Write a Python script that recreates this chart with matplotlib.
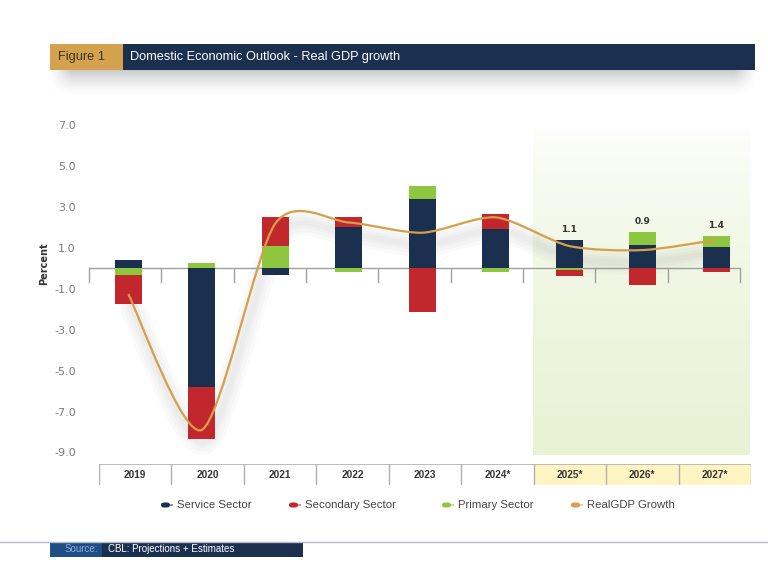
import numpy as np
import matplotlib
matplotlib.use("Agg")
import matplotlib.pyplot as plt
from matplotlib.path import Path
from matplotlib.patches import PathPatch, Rectangle, FancyBboxPatch
from matplotlib.transforms import ScaledTranslation

# data
years = ['2019', '2020', '2021', '2022', '2023', '2024*', '2025*', '2026*', '2027*']
service = [0.42, -5.8, -0.3, 2.05, 3.42, 1.95, 1.4, 1.15, 1.05]
primary = [-0.3, 0.25, 1.12, -0.16, 0.64, -0.15, -0.07, 0.65, 0.55]
secondary = [-1.45, -2.55, 1.42, 0.45, -2.15, 0.73, -0.3, -0.8, -0.15]
gdp = [-1.25, -7.9, 2.2, 2.25, 1.75, 2.5, 1.1, 0.9, 1.4]
projected = ['2025*', '2026*', '2027*']
yticks = [7.0, 5.0, 3.0, 1.0, -1.0, -3.0, -5.0, -7.0, -9.0]

NAVY = '#1b2f4f'
RED = '#c1272d'
GREEN = '#8dc63f'
GOLD = '#d5a04a'
ARIAL = 'Liberation Sans'

W, H = 768, 562
fig = plt.figure(figsize=(W / 100, H / 100), dpi=100)


def fx(x):
    return x / W


def fy(y):
    return 1 - y / H


def box(x0, y0, x1, y1):
    return [fx(x0), fy(y1), fx(x1) - fx(x0), fy(y0) - fy(y1)]


# title banner shadow (soft gray gradient)
sh = fig.add_axes(box(50, 70, 757, 96), zorder=0)
vy = np.linspace(0, 1, 60)[:, None]
hx = np.linspace(0, 1, 300)[None, :]
alpha = (1 - vy) ** 1.5 * np.clip(np.minimum(hx, 1 - hx) / 0.03, 0, 1) * 0.55
rgba = np.zeros((60, 300, 4))
rgba[..., :3] = 0.62
rgba[..., 3] = alpha
sh.imshow(rgba, aspect='auto', extent=[0, 1, 0, 1])
sh.axis('off')

fig.patches.append(Rectangle((fx(50), fy(70)), fx(73), 26 / H, transform=fig.transFigure,
                             color='#d4a24e', lw=0))
fig.patches.append(Rectangle((fx(123), fy(70)), fx(632), 26 / H, transform=fig.transFigure,
                             color=NAVY, lw=0))
fig.text(fx(58), fy(57), 'Figure 1', color='#3b3324', fontsize=9.2, va='center',
         family=ARIAL)
fig.text(fx(130), fy(57), 'Domestic Economic Outlook - Real GDP growth', color='white',
         fontsize=9.2, va='center', family=ARIAL)

# projection shading
shade = fig.add_axes(box(533, 125, 750, 455), zorder=0)
grad = np.linspace(0, 1, 100).reshape(-1, 1)
top_c = np.array([1.0, 1.0, 1.0])
bot_c = np.array([0xe9, 0xf2, 0xd4]) / 255
img = top_c * (1 - grad[..., None] ** 0.6) + bot_c * grad[..., None] ** 0.6
shade.imshow(img, aspect='auto', extent=[0, 1, 0, 1], origin='upper')
shade.axis('off')

YLIM = (-9.2, 7.5)
TOP, BOT = 115.2, 456.5

# frame axes: y labels, zero line and category ticks
ax0 = fig.add_axes(box(89, TOP, 740, BOT), zorder=1)
ax0.patch.set_alpha(0)
ax0.set_xlim(-0.5, len(years) - 0.5)
ax0.set_ylim(*YLIM)
ax0.axhline(0, color='#a0a0a0', lw=1)
for b in np.arange(-0.5, len(years), 1.0):
    ax0.plot([b, b], [0, -14 / 20.44], color='#a0a0a0', lw=1, clip_on=False)
ax0.set_xticks([])
ax0.set_yticks(yticks)
ax0.set_yticklabels([f'{t:.1f}' for t in yticks], color='#7a7a7a', fontsize=8)
ax0.tick_params(axis='y', length=0, pad=9.5)
for s in ax0.spines.values():
    s.set_visible(False)
fig.text(fx(44), fy(264), 'Percent', rotation=90, ha='center', va='center',
         fontsize=7, fontweight='bold', color='#333333')

# bars and line (the bars sit slightly right of the tick grid in the original)
ax = fig.add_axes(box(91.5, TOP, 753, BOT), zorder=2)
ax.patch.set_alpha(0)
x = np.arange(len(years))
width = 0.37
pos_base = np.zeros(len(years))
neg_base = np.zeros(len(years))
for vals, col in [(service, NAVY), (primary, GREEN), (secondary, RED)]:
    v = np.array(vals)
    bottoms = np.where(v >= 0, pos_base, neg_base)
    ax.bar(x, v, width, bottom=bottoms, color=col, zorder=3, linewidth=0)
    pos_base += np.where(v >= 0, v, 0)
    neg_base += np.where(v < 0, v, 0)

# smoothed GDP line (cardinal spline through the yearly points)
tension = 0.13
pts = np.column_stack([x, gdp]).astype(float)
ext = np.vstack([pts[0], pts, pts[-1]])
verts = [tuple(pts[0])]
codes = [Path.MOVETO]
for i in range(len(pts) - 1):
    p0, p1, p2, p3 = ext[i], ext[i + 1], ext[i + 2], ext[i + 3]
    c1 = p1 + (p2 - p0) * tension
    c2 = p2 - (p3 - p1) * tension
    verts += [tuple(c1), tuple(c2), tuple(p2)]
    codes += [Path.CURVE4] * 3
gdp_path = Path(verts, codes)
shadow_tr = ax.transData + ScaledTranslation(3 / 100, -12 / 100, fig.dpi_scale_trans)
for lw in [18, 13, 8, 4]:
    ax.add_patch(PathPatch(gdp_path, fill=False, edgecolor='#808080', lw=lw, alpha=0.04,
                           transform=shadow_tr, zorder=2, capstyle='round'))
ax.add_patch(PathPatch(gdp_path, fill=False, edgecolor=GOLD, lw=1.6, zorder=4))

# value labels for projections
for i, yr in enumerate(years):
    if yr in projected:
        ax.text(i, pos_base[i] + 0.3, f'{gdp[i]:.1f}', ha='center', va='bottom',
                fontsize=6.5, fontweight='bold', color='#333333')

ax.set_xlim(-0.5, len(years) - 0.5)
ax.set_ylim(*YLIM)
ax.axis('off')

# year table under the chart
tab = fig.add_axes(box(99, 464, 751, 485), zorder=3)
tab.set_xlim(0, len(years))
tab.set_ylim(0, 1)
tab.axis('off')
for i, yr in enumerate(years):
    if yr in projected:
        tab.add_patch(Rectangle((i, 0), 1, 1, color='#fff5c2', lw=0))
    tab.text(i + 0.5, 0.5, yr, ha='center', va='center', fontsize=7.2,
             fontweight='bold', color='#333333', family=ARIAL)
tab.plot([0, len(years)], [1, 1], color='#b0b0b0', lw=1.2)
for i in range(len(years) + 1):
    tab.plot([i, i], [0, 1], color='#b0b0b0', lw=1)

# legend
legend_items = [('Service Sector', NAVY, 161), ('Secondary Sector', RED, 289),
                ('Primary Sector', GREEN, 442), ('RealGDP Growth', GOLD, 571)]
for name, col, px in legend_items:
    fig.patches.append(FancyBboxPatch((fx(px), fy(507.5)), fx(9), 5 / H,
                                      boxstyle='round,pad=0,rounding_size=0.004',
                                      transform=fig.transFigure, color=col, lw=0))
    fig.patches.append(Rectangle((fx(px + 9), fy(506)), fx(3), 2 / H,
                                 transform=fig.transFigure, color=col, alpha=0.5, lw=0))
    fig.text(fx(px + 16), fy(505), name, fontsize=8.2, va='center', color='#444444',
             family=ARIAL)

# source bar
fig.lines.append(plt.Line2D([0, 1], [fy(541.5), fy(541.5)], transform=fig.transFigure,
                            color='#b8bcc8', lw=1))
fig.patches.append(Rectangle((fx(50), fy(557)), fx(52), 15 / H, transform=fig.transFigure,
                             color='#1f4d86', lw=0))
fig.patches.append(Rectangle((fx(102), fy(557)), fx(201), 15 / H, transform=fig.transFigure,
                             color=NAVY, lw=0))
fig.text(fx(98), fy(549), 'Source:', ha='right', va='center', fontsize=7,
         color='#8fb0d8', family=ARIAL)
fig.text(fx(108), fy(549), 'CBL: Projections + Estimates', va='center', fontsize=7,
         color='white', family=ARIAL)

fig.savefig('out.png', dpi=100)
